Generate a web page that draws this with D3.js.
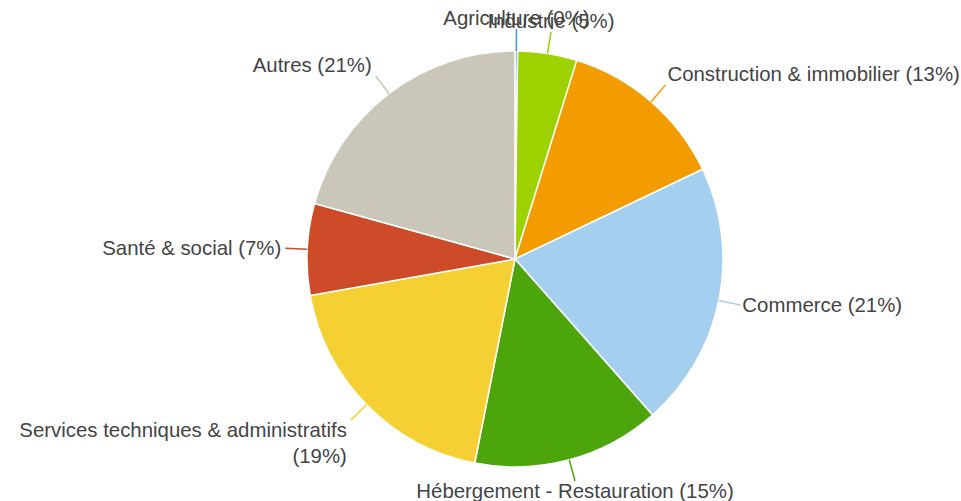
<!DOCTYPE html>
<html>
<head>
<meta charset="utf-8">
<script src="https://cdn.jsdelivr.net/npm/d3@7/dist/d3.min.js"></script>
<style>
  html, body { margin: 0; padding: 0; background: #fff; }
  svg { display: block; }
  text { font-family: "Liberation Sans", Arial, sans-serif; font-size: 20.4px; fill: #444; }
</style>
</head>
<body>
<svg id="chart" width="961" height="501"></svg>
<script>
// Répartition des établissements par secteur d'activité (%)
const categories = [
  "Agriculture",
  "Industrie",
  "Construction & immobilier",
  "Commerce",
  "Hébergement - Restauration",
  "Services techniques & administratifs",
  "Santé & social",
  "Autres"
];
const shares = [0.2, 4.6, 13.1, 20.6, 14.6, 19.1, 7.1, 20.7];
const colors = ["#3a9be0", "#9bd200", "#f39c00", "#a4cfee", "#4ba50b", "#f5d033", "#cd4b29", "#cbc6ba"];

const W = 961, H = 501;
const cx = 515, cy = 259, radius = 208;
const labelGap = 22;

const svg = d3.select("#chart");
const g = svg.append("g").attr("transform", `translate(${cx},${cy})`);

const rows = categories.map((c, i) => ({ name: c, value: shares[i], color: colors[i] }));
const total = d3.sum(rows, d => d.value);

const pie = d3.pie().sort(null).value(d => d.value);
const arcs = pie(rows);

const arc = d3.arc().innerRadius(0).outerRadius(radius);

g.selectAll("path.slice")
  .data(arcs)
  .join("path")
  .attr("class", "slice")
  .attr("d", arc)
  .attr("fill", d => d.data.color)
  .attr("stroke", "#fff")
  .attr("stroke-width", 1.5);

// point on a circle of radius r at angle a (clockwise from 12 o'clock)
const polar = (a, r) => [Math.sin(a) * r, -Math.cos(a) * r];

const labels = g.append("g");

arcs.forEach(d => {
  const mid = (d.startAngle + d.endAngle) / 2;
  const s = Math.sin(mid), c = Math.cos(mid);
  const [x0, y0] = polar(mid, radius);
  const [ex, ey] = polar(mid, radius + labelGap);

  labels.append("line")
    .attr("x1", x0).attr("y1", y0)
    .attr("x2", ex).attr("y2", ey)
    .attr("stroke", d.data.color)
    .attr("stroke-width", 1.5);

  const pct = Math.round(d.data.value / total * 100);
  const txt = `${d.data.name} (${pct}%)`;

  let anchor, tx;
  if (Math.abs(s) < 0.35) { anchor = "middle"; tx = ex; }
  else if (s > 0) { anchor = "start"; tx = ex + 2; }
  else { anchor = "end"; tx = ex - 4; }

  let baseline;
  if (c > 0.35) baseline = ey - 4;
  else if (c < -0.35) baseline = ey + 17;
  else baseline = ey + 7;

  const t = labels.append("text")
    .attr("text-anchor", anchor)
    .attr("x", tx)
    .attr("y", baseline);

  // wrap words onto a new line when the label would run off the page
  const absX = cx + tx;
  const room = anchor === "end" ? absX - 8 : anchor === "start" ? W - absX : W;
  const words = txt.split(" ");
  let line = [];
  let tspan = t.append("tspan").attr("x", tx).attr("dy", 0);
  const lineH = 26;
  words.forEach(w => {
    line.push(w);
    tspan.text(line.join(" "));
    if (tspan.node().getComputedTextLength() > room && line.length > 1) {
      line.pop();
      tspan.text(line.join(" "));
      line = [w];
      tspan = t.append("tspan").attr("x", tx).attr("dy", lineH).text(w);
    }
  });
});
</script>
</body>
</html>
